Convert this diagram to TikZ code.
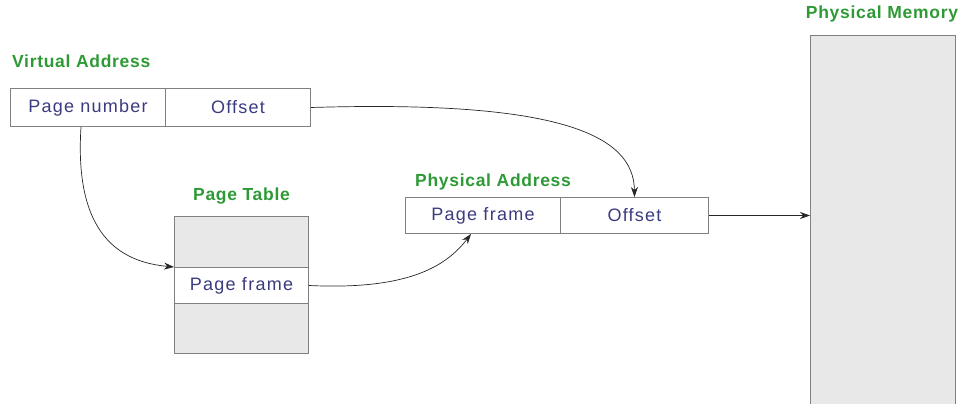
\documentclass[tikz,border=0pt]{standalone}
\usepackage{fontspec}
\setmainfont{Liberation Sans}
\usetikzlibrary{calc,positioning,arrows.meta}
\definecolor{txtblue}{HTML}{3B3B80}
\definecolor{lblgreen}{HTML}{2E9A35}
\definecolor{cellgray}{HTML}{E8E8E8}
\definecolor{edgegray}{HTML}{808080}
\tikzset{
  line/.style={-{Stealth[length=10pt,width=7pt]}, line width=0.7pt, draw=black!85},
  cell/.style={draw=edgegray, line width=1pt, fill=white, inner sep=0pt, text=txtblue,
    font=\fontsize{18}{21}\selectfont\addfontfeatures{LetterSpace=7}, anchor=north west},
  graycell/.style={cell, fill=cellgray},
  lbl/.style={text=lblgreen, font=\fontsize{17.5}{20}\selectfont\bfseries\addfontfeatures{LetterSpace=4}, inner sep=0pt}
}
\begin{document}
\begin{tikzpicture}[x=1pt, y=-1pt]
  \useasboundingbox (0,0) rectangle (970,404);

  % virtual address
  \node[cell, minimum width=155, minimum height=38] (pnum) at (10,88) {Page number};
  \node[cell, minimum width=145, minimum height=38] (voff) at (165,88) {Offset};
  \node[lbl, anchor=south west] (valbl) at (12,68) {Virtual Address};

  % page table
  \node[graycell, minimum width=134, minimum height=51] (ptop) at (174,216) {};
  \node[cell, minimum width=134, minimum height=36] (pframe) at (174,267) {Page frame};
  \node[graycell, minimum width=134, minimum height=50] (pbot) at (174,303) {};
  \node[lbl, above=12pt of ptop] (ptlbl) {Page Table};

  % physical address
  \node[cell, minimum width=155, minimum height=36] (pafr) at (405,197) {Page frame};
  \node[cell, minimum width=148, minimum height=36] (paoff) at (560,197) {Offset};
  \node[lbl, anchor=south west] (palbl) at (415,190) {Physical Address};

  % physical memory
  \node[graycell, minimum width=145, minimum height=380] (mem) at (810,35) {};
  \node[lbl, anchor=south] (memlbl) at (882,22) {Physical Memory};

  \draw[line] ($(pnum.south)+(-7,0)$) .. controls (74,235) and (120,262) .. (pframe.north west);
  \draw[line] (voff.east) .. controls (560,100) and (634,135) .. (paoff.north);
  \draw[line] (pframe.east) .. controls (405,290) and (445,268) .. ($(pafr.south)+(-12,0)$);
  \draw[line] (paoff.east) -- (paoff.east -| mem.west);
\end{tikzpicture}
\end{document}
